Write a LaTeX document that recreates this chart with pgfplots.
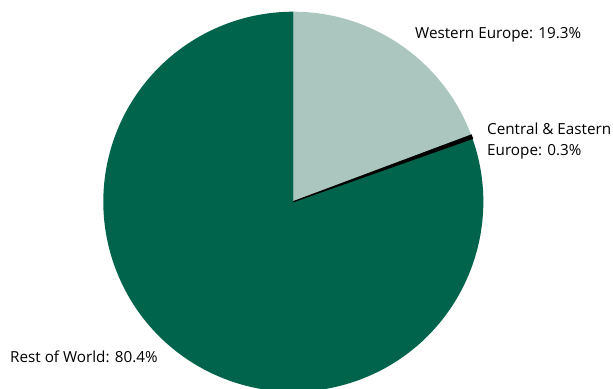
\documentclass[border=0pt]{standalone}
\usepackage{pgfplots}
\usepackage{pgfplotstable}
\pgfplotsset{compat=1.18}
\usepackage{fontspec}
\setmainfont{Open Sans}
\definecolor{weu}{HTML}{ABC6BF}
\definecolor{ceu}{HTML}{000000}
\definecolor{row}{HTML}{00634B}
\pgfplotstableread[col sep=comma]{
label,value
Western Europe,19.3
Central and Eastern Europe,0.3
Rest of World,80.4
}\piedata
\pgfplotstablegetelem{0}{value}\of\piedata \let\vA\pgfplotsretval
\pgfplotstablegetelem{1}{value}\of\piedata \let\vB\pgfplotsretval
\pgfplotstablegetelem{2}{value}\of\piedata \let\vC\pgfplotsretval
\pgfmathsetmacro{\aS}{90}
\pgfmathsetmacro{\aA}{\aS-3.6*\vA}
\pgfmathsetmacro{\aB}{\aA-3.6*\vB}
\pgfmathsetmacro{\aC}{\aB-3.6*\vC}
\begin{document}
\begin{tikzpicture}
\begin{axis}[
  at={(0,0)}, anchor=south west,
  scale only axis, width=613bp, height=389bp,
  xmin=0, xmax=613, ymin=0, ymax=389,
  hide axis, clip=true,
]
\def\cx{293.3}\def\cy{187.3}\def\r{190bp}
\fill[weu] (axis cs:\cx,\cy) -- ++(\aS:\r) arc[start angle=\aS, end angle=\aA, radius=\r] -- cycle;
\fill[row] (axis cs:\cx,\cy) -- ++(\aB:\r) arc[start angle=\aB, end angle=\aC, radius=\r] -- cycle;
\filldraw[ceu, line width=1.2bp, line join=miter] (axis cs:\cx,\cy) -- ++(\aA:\r) arc[start angle=\aA, end angle=\aB, radius=\r] -- cycle;
\node[anchor=west, font=\fontsize{15.3}{17}\selectfont, inner sep=0pt] at (axis cs:415,354) {Western Europe: \vA\%};
\node[anchor=west, font=\fontsize{15.3}{21}\selectfont, align=left, inner sep=0pt] at (axis cs:487,247.5) {Central \& Eastern\\Europe: \vB\%};
\node[anchor=west, font=\fontsize{15.3}{17}\selectfont, inner sep=0pt] at (axis cs:10,32) {Rest of World: \vC\%};
\end{axis}
\pgfresetboundingbox
\path[use as bounding box] (0,0) rectangle (613bp,389bp);
\end{tikzpicture}
\end{document}
